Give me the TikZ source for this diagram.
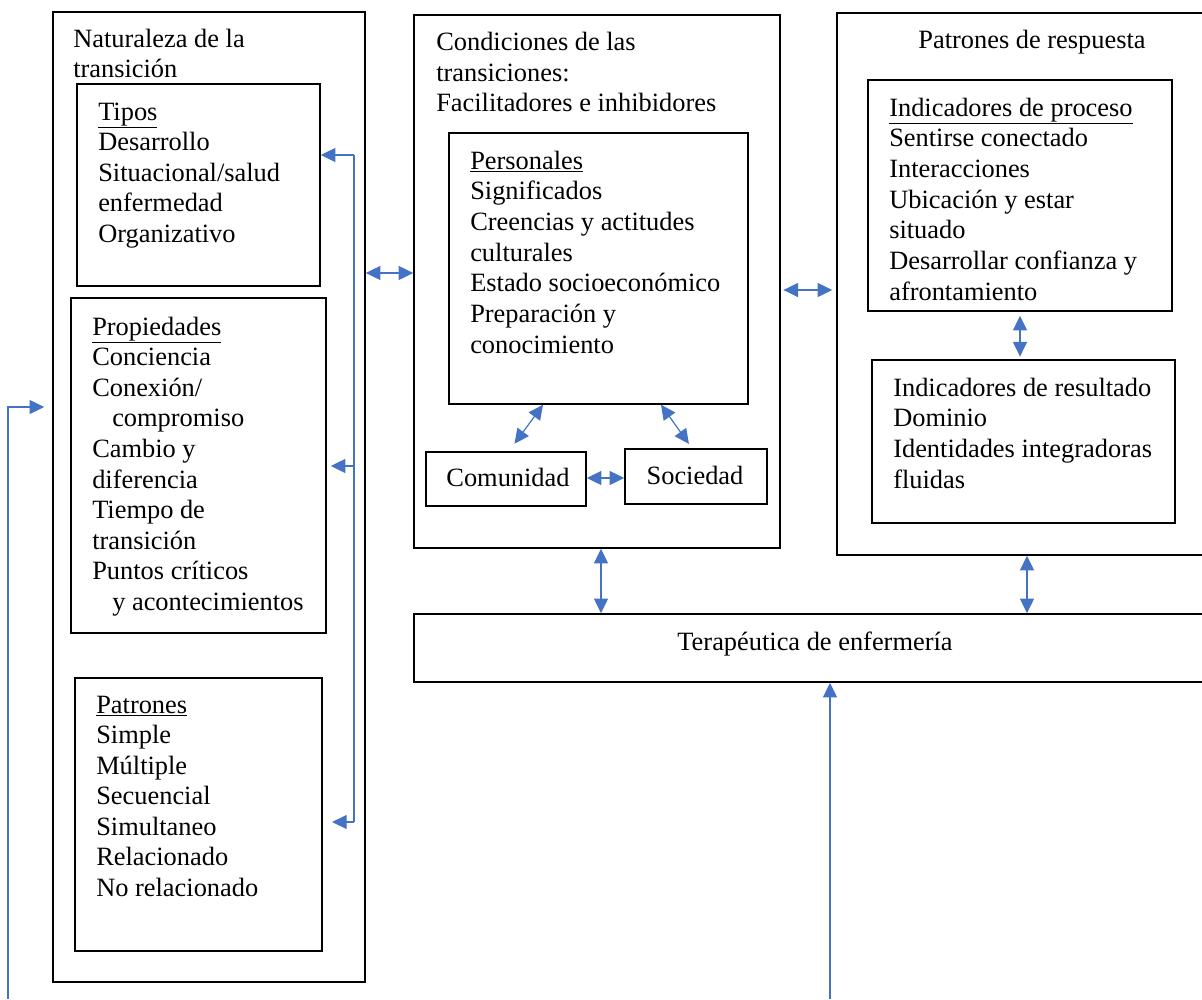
\documentclass[tikz,border=0pt]{standalone}
\usepackage{fontspec}
\setmainfont{Liberation Serif}
\usetikzlibrary{arrows.meta,fit}
\definecolor{linkblue}{RGB}{68,114,196}

\tikzset{
  box/.style={draw=black, line width=1.1pt, inner sep=0pt},
  txt/.style={anchor=base west, inner sep=0pt},
  link/.style={draw=linkblue, line width=0.9pt},
  sgl/.style={link, -{Triangle[length=11pt,width=10.5pt]}},
  dbl/.style={link, {Triangle[length=11pt,width=10.5pt]}-{Triangle[length=11pt,width=10.5pt]}},
}

\begin{document}
\begin{tikzpicture}[x=0.75pt,y=-0.75pt,font=\fontsize{19.8}{22.9}\selectfont]
\clip (0,0) rectangle (1202,999);

% outer boxes
\node[box, fit={(53,12) (365,982)}] (nat) {};
\node[box, fit={(414,15) (780,548)}] (cond) {};
\node[box, fit={(837,13) (1215,555)}] (resp) {};
\node[box, fit={(414,614) (1215,682)}] (tera) {};
\node[txt, anchor=base] (tera-l1) at (815,650) {Terap\'eutica de enfermer\'ia};

% inner boxes
\node[box, fit={(77,84) (320,286)}] (tipos) {};
\node[box, fit={(71,298) (326,633)}] (prop) {};
\node[box, fit={(75,678) (322,951)}] (pat) {};
\node[box, fit={(449,133) (748,404)}] (pers) {};
\node[box, fit={(426,452) (586,506)}] (com) {};
\node[box, fit={(625,449) (767,504)}] (soc) {};
\node[box, fit={(868,80) (1172,311)}] (proc) {};
\node[box, fit={(872,360) (1175,523)}] (res) {};
\node[txt, anchor=base] (com-l1) at (508,486) {Comunidad};
\node[txt, anchor=base] (soc-l1) at (695,484) {Sociedad};

% titles
\foreach \t [count=\i] in {Naturaleza de la,transici\'on}
  \node[txt] (nat-l\i) at (73,{48+30*(\i-1)}) {\t};
\foreach \t [count=\i] in {Condiciones de las,transiciones:,Facilitadores e inhibidores}
  \node[txt] (cond-l\i) at (436,{51+30*(\i-1)}) {\t};
\node[txt, anchor=base] (resp-l1) at (1032,49) {Patrones de respuesta};

% lists
\foreach \t [count=\i] in {\underline{Tipos},Desarrollo,Situacional/salud,enfermedad,Organizativo}
  \node[txt] (tipos-l\i) at (98,{120+30.5*(\i-1)}) {\t};
\foreach \t [count=\i] in {\underline{Propiedades},Conciencia,Conexi\'on/,{\hspace*{15pt}compromiso},
    Cambio y,diferencia,Tiempo de,transici\'on,Puntos cr\'iticos,{\hspace*{15pt}y acontecimientos}}
  \node[txt] (prop-l\i) at (92,{335+30.6*(\i-1)}) {\t};
\foreach \t [count=\i] in {\underline{Patrones},Simple,M\'ultiple,Secuencial,Simultaneo,Relacionado,No relacionado}
  \node[txt] (pat-l\i) at (96,{713+30.5*(\i-1)}) {\t};
\foreach \t [count=\i] in {\underline{Personales},Significados,Creencias y actitudes,culturales,
    Estado socioecon\'omico,Preparaci\'on y,conocimiento}
  \node[txt] (pers-l\i) at (470,{169+30.7*(\i-1)}) {\t};
\foreach \t [count=\i] in {\underline{Indicadores de proceso},Sentirse conectado,Interacciones,
    Ubicaci\'on y estar,situado,Desarrollar confianza y,afrontamiento}
  \node[txt] (proc-l\i) at (889,{116+30.7*(\i-1)}) {\t};
\foreach \t [count=\i] in {Indicadores de resultado,Dominio,Identidades integradoras,fluidas}
  \node[txt] (res-l\i) at (893,{396+30.7*(\i-1)}) {\t};

% two-way links
\draw[dbl] (nat.east |- 0,273) -- (cond.west |- 0,273);
\draw[dbl, shorten <=2pt, shorten >=3pt] (cond.east |- 0,290) -- (resp.west |- 0,290);
\draw[dbl, shorten >=7pt] (pers.south -| 543,0) -- (com.north -| 509,0);
\draw[dbl, shorten >=4pt] (pers.south -| 661,0) -- (soc.north -| 692,0);
\draw[dbl] (com.east |- 0,478) -- (soc.west |- 0,478);
\draw[dbl] (cond.south -| 601,0) -- (tera.north -| 601,0);
\draw[dbl] (resp.south -| 1027,0) -- (tera.north -| 1027,0);
\draw[dbl, shorten <=3pt, shorten >=2pt] (proc.south -| 1020,0) -- (res.north -| 1020,0);

% rail on the left boxes
\coordinate (rail-top) at (354,155);
\coordinate (rail-mid) at (354,466);
\coordinate (rail-bot) at (354,822);
\draw[link] (rail-top) -- (rail-bot);
\draw[sgl] (rail-top) -- (tipos.east |- rail-top);
\draw[sgl, shorten >=3pt] (rail-mid) -- (prop.east |- rail-mid);
\draw[sgl, shorten >=7pt] (rail-bot) -- (pat.east |- rail-bot);

% feedback lines from below
\coordinate (fb-l) at (8,999);
\coordinate (fb-m) at (830,999);
\draw[sgl, shorten >=6pt] (fb-l) |- (nat.west |- 0,407);
\draw[sgl] (fb-m) -- (tera.south -| fb-m);

\end{tikzpicture}
\end{document}
